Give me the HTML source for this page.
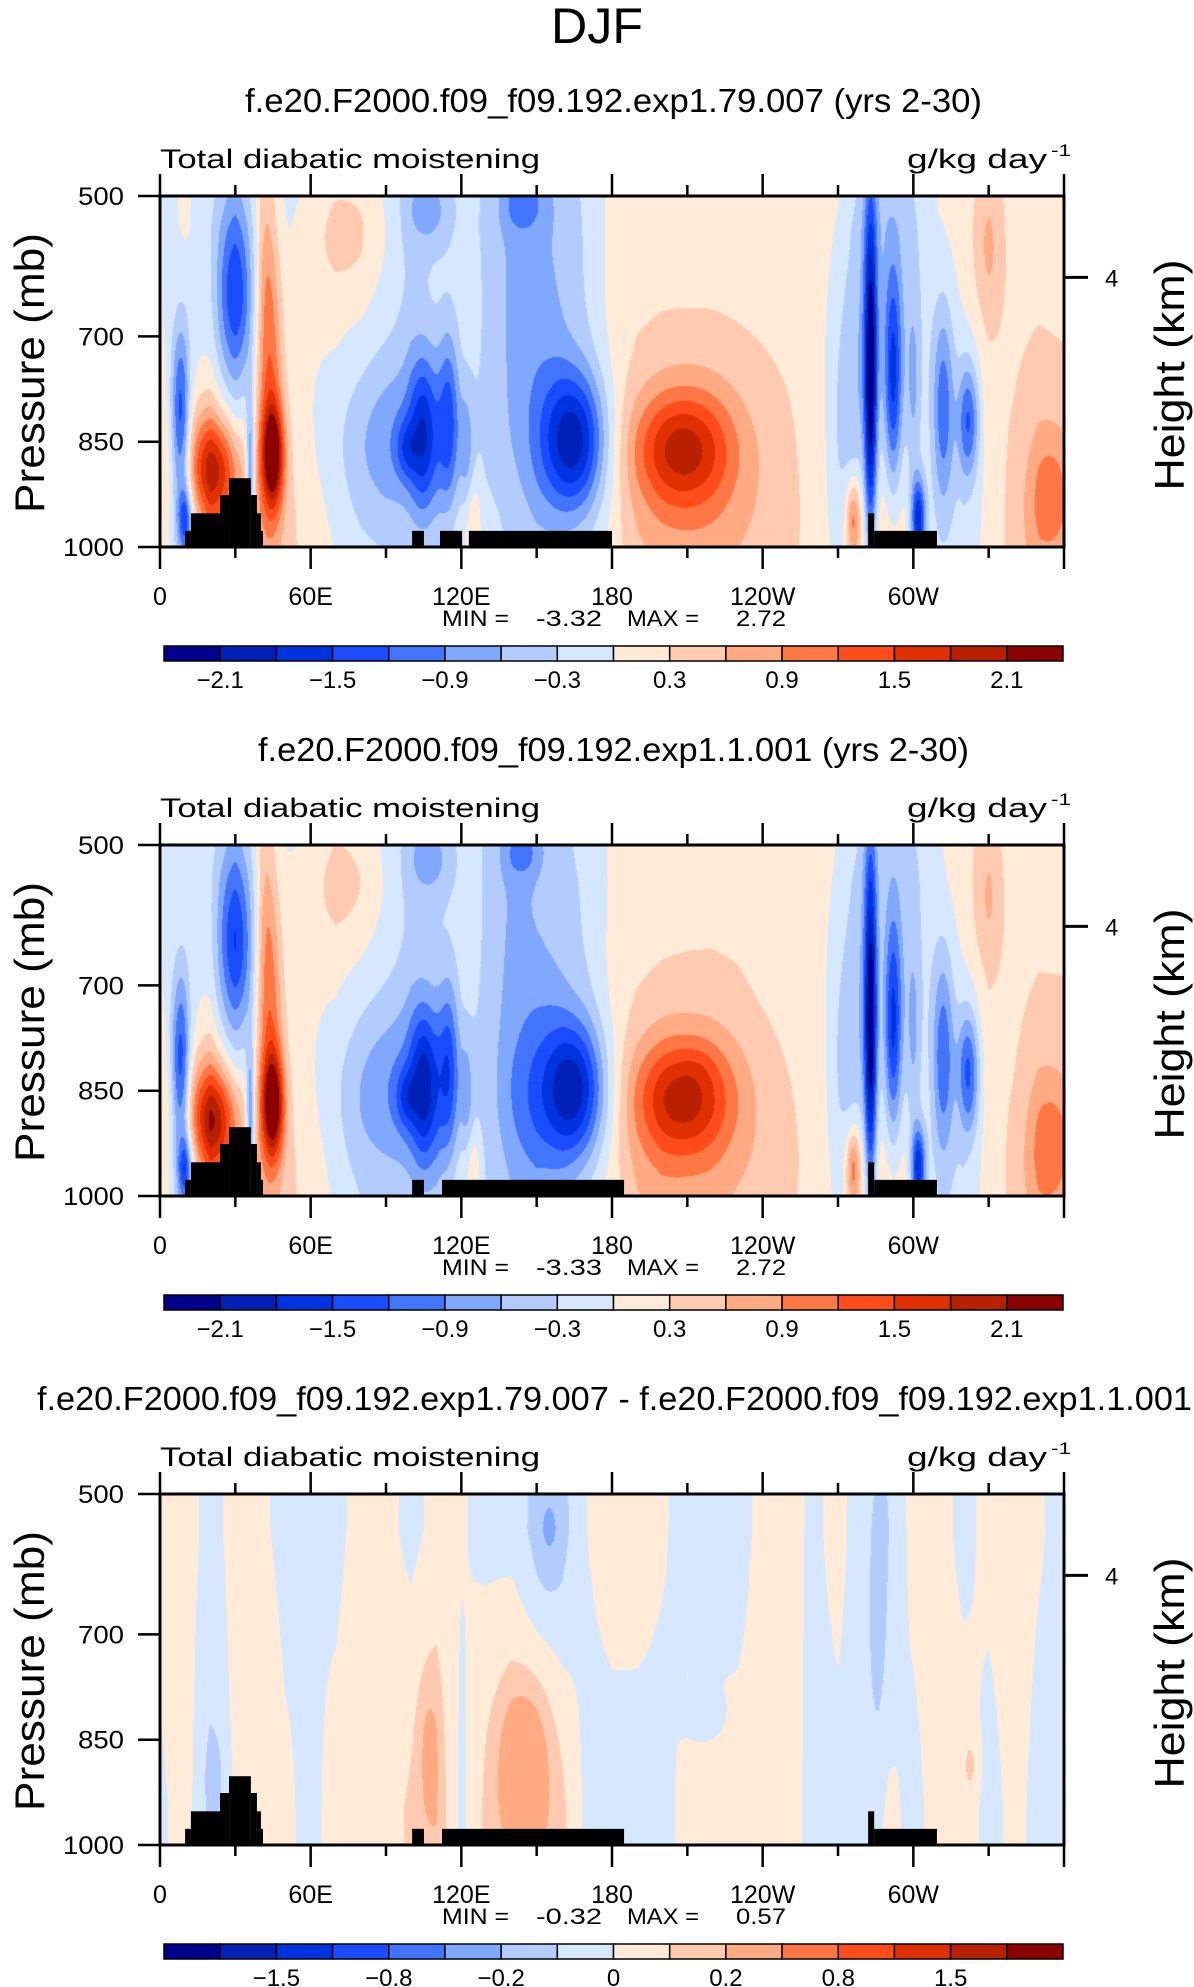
<!DOCTYPE html>
<html><head><meta charset="utf-8">
<style>
html,body{margin:0;padding:0;background:#fff;}
#wrap{position:relative;width:1194px;height:1987px;overflow:hidden;}
canvas{position:absolute;}
svg{position:absolute;left:0;top:0;}
text{font-family:"Liberation Sans",sans-serif;fill:#000;}
</style></head><body>
<div id="wrap">
<canvas id="c0" width="904" height="351" style="left:160px;top:196px"></canvas>
<canvas id="c1" width="904" height="351" style="left:160px;top:845px"></canvas>
<canvas id="c2" width="904" height="351" style="left:160px;top:1494px"></canvas>
<svg id="svg" width="1194" height="1987"></svg>
</div>
<script>
// ---------- data ----------
const baseLon = [0,10,20,30,40,50,60,70,80,90,100,110,120,130,140,150,160,170,180,190,200,210,220,230,240,250,260,270,280,290,300,310,320,330,340,350,360];
const base1Upper = [-0.1,0.05,-0.1,-0.35,0.1,-0.1,-0.05,0.1,0.1,-0.1,-0.4,-0.2,-0.15,-0.3,-0.5,-0.4,-0.35,-0.2,0.1,0.15,0.15,0.15,0.15,0.15,0.15,0.15,0.15,0.12,-0.2,-0.25,-0.15,0.1,0.15,0.4,0.15,0.1,0.1];
const base1Lower = [0.3,-0.5,0.6,0.5,0.6,0.4,0.2,0.05,-0.1,-0.15,-0.1,-0.1,0.1,-0.1,-0.15,-0.2,-0.15,-0.1,0.1,0.4,0.5,0.5,0.5,0.45,0.4,0.35,0.2,0.05,0.6,0.4,0.2,-0.1,-0.15,0.1,0.4,0.7,0.6];
const blobLon1 = [8,10,30,30,22,15,36,45,44,42,72,95,105,115,98,122,108,145,150,165,125,208,212,283,277,292,302,300,312,322,290,330,355,276];
const blobP1   = [820,960,640,720,890,870,900,870,760,600,560,850,840,820,860,860,520,510,780,850,960,860,880,760,820,760,960,780,800,820,700,580,920,960];
const blobA1   = [-1.3,-1.0,-0.9,-0.5,1.3,0.5,-1.2,2.0,0.9,0.4,0.3,-0.7,-1.1,-1.0,-0.6,-0.5,-0.5,-0.5,-0.45,-1.7,0.4,1.2,0.4,-2.2,-0.6,-1.4,-1.8,-0.5,-1.0,-1.2,-0.3,0.3,0.5,1.0];
const blobSx1  = [2.5,2,5,8,7,8,1.2,3,3.5,2.5,12,18,4,3,3,2,6,6,12,9,2,13,20,1.8,6,2.5,2,2,3,3,15,4,6,2];
const blobSp1  = [90,30,80,150,50,70,80,50,150,120,60,90,80,90,30,60,40,30,200,70,40,55,110,180,150,110,40,100,100,60,200,60,60,40];
const base3Upper = [0.04,0.04,-0.03,0.03,0.02,-0.03,0,-0.03,0.04,0.03,-0.03,0.03,0.01,-0.03,-0.04,-0.12,-0.12,0,0.04,0.04,0.01,-0.03,-0.04,-0.04,0.03,0.04,-0.02,0.03,-0.05,-0.08,0.03,0.04,-0.03,0.03,0.04,0.01,-0.03];
const base3Lower = [-0.02,0.04,-0.1,0.02,0.08,0.02,-0.03,0.04,0.08,0.05,0.12,0.18,-0.03,0.12,0.2,0.2,0.12,-0.03,-0.04,-0.04,-0.03,0.03,0.03,0.04,0.03,0.04,-0.03,-0.03,-0.04,0.03,-0.03,0.04,0.06,-0.04,0.03,-0.03,-0.03];
const blobLon3 = [145,107,155,286,215,323,22];
const blobP3   = [870,860,560,700,815,885,900];
const blobA3   = [0.22,0.12,-0.1,-0.1,-0.09,0.1,-0.08];
const blobSx3  = [7,3,4,3,5,2,3];
const blobSp3  = [70,70,60,150,20,30,50];
const levels12 = [-2.1,-1.8,-1.5,-1.2,-0.9,-0.6,-0.3,0,0.3,0.6,0.9,1.2,1.5,1.8,2.1];
const levels3  = [-2,-1.5,-1,-0.8,-0.5,-0.2,-0.1,0,0.1,0.2,0.5,0.8,1,1.5,2];
const colors = ["#00008c","#0020b8","#0033e0","#1a4cff","#4274ff","#80a8ff","#b3ccff","#d6e8ff","#ffebd8","#ffcab0","#ffaa82","#ff7744","#ff4c1a","#e03000","#b82000","#8b0000"];
const labels12 = ["-2.1","-1.5","-0.9","-0.3","0.3","0.9","1.5","2.1"];
const labelIdx12 = [1,3,5,7,9,11,13,15];
const labels3 = ["-1.5","-0.8","-0.2","0","0.2","0.8","1.5"];
const labelIdx3 = [2,4,6,8,10,12,14];
const topoA = [[10,12.3,977],[12.3,23.9,952],[23.9,27.5,926],[27.5,36.2,902],[36.2,38.6,926],[38.6,40.2,952],[40.2,41,977],[100.4,105.1,977],[111.5,120.3,977],[123,180,977],[282,284.4,952],[284.4,309.4,977]];
const topoB = [[10,12.3,977],[12.3,23.9,952],[23.9,27.5,926],[27.5,36.2,902],[36.2,38.6,926],[38.6,40.2,952],[40.2,41,977],[100.4,105.1,977],[112.3,184.8,977],[282,284.4,952],[284.4,309.4,977]];
const xTickLon = [0,60,120,180,240,300];
const xTickLab = ["0","60E","120E","180","120W","60W"];
const yTickP = [500,700,850,1000];
const panelTitles = ["f.e20.F2000.f09_f09.192.exp1.79.007 (yrs 2-30)","f.e20.F2000.f09_f09.192.exp1.1.001 (yrs 2-30)","f.e20.F2000.f09_f09.192.exp1.79.007 - f.e20.F2000.f09_f09.192.exp1.1.001"];
const minVals = ["-3.32","-3.33","-0.32"];
const maxVals = ["2.72","2.72","0.57"];

const PX0=160, PX1=1064, PY0=196, PY1=547, PW=904, PH=351, DY=649;
const xs = lon => PX0 + lon/360*PW;
const ys = (p,dy) => dy + PY0 + (p-500)/500*PH;

function interpBase(arr, lon){
  const k=Math.min(35,Math.floor(lon/10)); const t=(lon-baseLon[k])/10;
  return arr[k]*(1-t)+arr[k+1]*t;
}
function field(up,lo,bl,bp,ba,bsx,bsp){
  const W=PW,H=PH,f=new Float32Array(W*H);
  const lons=[],ps=[];
  for(let i=0;i<W;i++) lons.push((i+0.5)/W*360);
  for(let j=0;j<H;j++) ps.push(500+(j+0.5)/H*500);
  const bu=lons.map(l=>interpBase(up,l)), blw=lons.map(l=>interpBase(lo,l));
  const fx=bl.map((L,b)=>lons.map(l=>Math.exp(-((l-L)*(l-L))/(2*bsx[b]*bsx[b]))));
  const fp=bp.map((P,b)=>ps.map(p=>Math.exp(-((p-P)*(p-P))/(2*bsp[b]*bsp[b]))));
  for(let j=0;j<H;j++){
    let t=(ps[j]-550)/400; t=Math.max(0,Math.min(1,t));
    for(let i=0;i<W;i++){
      let v=bu[i]*(1-t)+blw[i]*t;
      for(let b=0;b<bl.length;b++) v+=ba[b]*fx[b][i]*fp[b][j];
      f[j*W+i]=v;
    }
  }
  return f;
}
function hex(c){return [parseInt(c.substr(1,2),16),parseInt(c.substr(3,2),16),parseInt(c.substr(5,2),16)];}
const rgb=colors.map(hex);
function paint(id,f,lev){
  const cv=document.getElementById(id),ctx=cv.getContext('2d');
  const img=ctx.createImageData(PW,PH);
  for(let k=0;k<f.length;k++){
    let c=0; while(c<lev.length && f[k]>=lev[c]) c++;
    const col=rgb[c]; img.data[4*k]=col[0];img.data[4*k+1]=col[1];img.data[4*k+2]=col[2];img.data[4*k+3]=255;
  }
  ctx.putImageData(img,0,0);
}
const F1=field(base1Upper,base1Lower,blobLon1,blobP1,blobA1,blobSx1,blobSp1);
const F3=field(base3Upper,base3Lower,blobLon3,blobP3,blobA3,blobSx3,blobSp3);
const F2=new Float32Array(F1.length); for(let k=0;k<F1.length;k++) F2[k]=F1[k]-F3[k];
paint('c0',F1,levels12); paint('c1',F2,levels12); paint('c2',F3,levels3);

const NS="http://www.w3.org/2000/svg", svg=document.getElementById('svg');
function el(tag,attrs,parent){const e=document.createElementNS(NS,tag);for(const k in attrs)e.setAttribute(k,attrs[k]);(parent||svg).appendChild(e);return e;}
function txt(s,x,y,size,anchor,len,parent,extra){
  const e=el('text',Object.assign({x:x,y:y,'font-size':size,'text-anchor':anchor||'start'},extra||{}),parent);
  if(len){e.setAttribute('textLength',len);e.setAttribute('lengthAdjust','spacingAndGlyphs');}
  e.textContent=s;return e;
}
const t0=txt('DJF',597,43,50,'middle',92);



const titleX=[[245,737],[258,711],[37,1155]];
for(let n=0;n<3;n++){
  const dy=n*DY;
  const g=el('g',{});
  
  
  const st=txt(panelTitles[n],titleX[n][0],112+dy,33,'start',titleX[n][1],g);
  
  
  const lt=txt('Total diabatic moistening',160,168+dy,27,'start',380,g);
  
  
  const ut=txt('g/kg day',907,168+dy,27,'start',140,g);
  
  
  const us=txt('-1',1051,156+dy,17,'start',20,g);
  
  
  const topo=n===0?topoA:topoB;
  topo.forEach(s=>{
    const r=el('rect',{x:xs(s[0]),y:ys(s[2],dy),width:xs(s[1])-xs(s[0]),height:ys(1000,dy)-ys(s[2],dy),fill:'#000'},g);
    
    
  });
  const fr=el('rect',{x:PX0,y:dy+PY0,width:PW,height:PH,fill:'none',stroke:'#000','stroke-width':3},g);
  
  
  for(let lon=0;lon<=360;lon+=30){
    const major=lon%60===0, L=major?22:11, x=xs(lon);
    el('line',{x1:x,x2:x,y1:dy+PY0,y2:dy+PY0-L,stroke:'#000','stroke-width':2.5},g);
    el('line',{x1:x,x2:x,y1:dy+PY1,y2:dy+PY1+L,stroke:'#000','stroke-width':2.5},g);
  }
  xTickLon.forEach((lon,i)=>{
    const t=txt(xTickLab[i],xs(lon),605+dy,25,'middle',null,g);
    
    
  });
  yTickP.forEach(p=>{
    const y=ys(p,dy);
    el('line',{x1:PX0-22,x2:PX0,y1:y,y2:y,stroke:'#000','stroke-width':2.5},g);
    const t=txt(String(p),124,y+9,25,'end',p===1000?61:46,g);
    
    
  });
  const y4=ys(616,dy);
  el('line',{x1:PX1,x2:PX1+24,y1:y4,y2:y4,stroke:'#000','stroke-width':3},g);
  const t4=txt('4',1105,y4+9,24,'start',null,g);
  
  
  const yl=txt('Pressure (mb)',0,0,42,'middle',280,g,{transform:`translate(44,${373+dy}) rotate(-90)`});
  
  
  const yr=txt('Height (km)',0,0,42,'middle',231,g,{transform:`translate(1184,${375+dy}) rotate(-90)`});
  
  
  [['MIN =',442,67],[minVals[n],536,66],['MAX =',627,72],[maxVals[n],736,50]].forEach(a=>{
    const t=txt(a[0],a[1],626+dy,22,'start',a[2],g);
    
    
  });
  const cb0=164, cbW=899, cbY=646+dy, cbH=15, bw=cbW/16;
  colors.forEach((c,i)=>{
    const r=el('rect',{x:cb0+i*bw,y:cbY,width:bw,height:cbH,fill:c,stroke:'#000','stroke-width':1.5},g);
    
    
  });
  const labs=n<2?labels12:labels3, idx=n<2?labelIdx12:labelIdx3;
  labs.forEach((s,i)=>{
    const x=cb0+idx[i]*bw;
    const t=txt(s.replace('-','\u2212'),x,688+dy,24,'middle',null,g);
    
    
  });
}
</script>
</body></html>
